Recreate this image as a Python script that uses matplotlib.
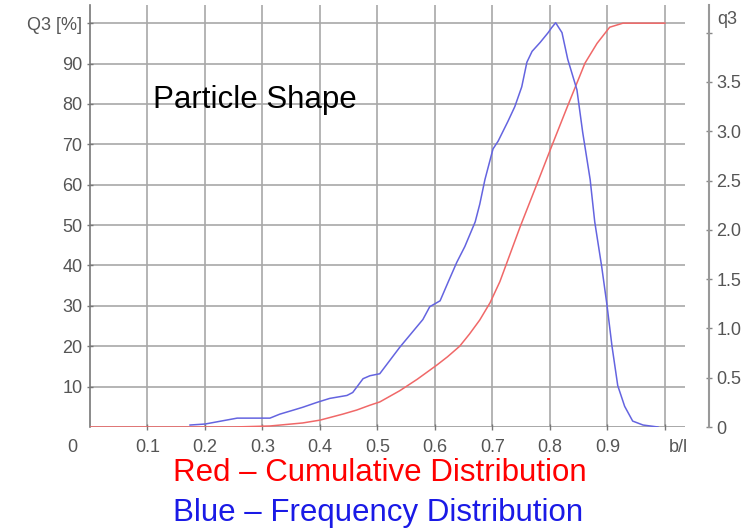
import matplotlib.pyplot as plt

plt.rcParams['font.family'] = ['Liberation Sans', 'DejaVu Sans']

# Blue - frequency distribution q3 (right axis)
blue_x = [0.174, 0.200, 0.256, 0.313, 0.330, 0.353, 0.370, 0.395, 0.417, 0.447,
          0.457, 0.475, 0.487, 0.504, 0.539, 0.579, 0.591, 0.609, 0.623, 0.638,
          0.652, 0.670, 0.678, 0.687, 0.701, 0.710, 0.727, 0.739, 0.751, 0.760,
          0.769, 0.783, 0.797, 0.803, 0.810, 0.821, 0.831, 0.847, 0.857, 0.870,
          0.878, 0.890, 0.899, 0.908, 0.918, 0.930, 0.944, 0.962, 0.988]
blue_q3 = [0.02, 0.03, 0.09, 0.09, 0.13, 0.17, 0.20, 0.25, 0.29, 0.32,
           0.35, 0.49, 0.52, 0.54, 0.81, 1.09, 1.22, 1.28, 1.47, 1.67,
           1.83, 2.08, 2.26, 2.51, 2.82, 2.90, 3.10, 3.25, 3.45, 3.70,
           3.81, 3.90, 4.00, 4.05, 4.10, 4.00, 3.73, 3.42, 2.99, 2.51,
           2.08, 1.63, 1.25, 0.82, 0.42, 0.21, 0.06, 0.02, 0.00]

# Red - cumulative distribution Q3 [%] (left axis)
red_x = [0.0, 0.25, 0.313, 0.370, 0.400, 0.440, 0.464, 0.487, 0.504, 0.539,
         0.569, 0.603, 0.622, 0.643, 0.660, 0.678, 0.696, 0.713, 0.748, 0.777,
         0.803, 0.830, 0.861, 0.882, 0.904, 0.927, 1.0]
red_Q3 = [0.0, 0.0, 0.25, 1.0, 1.7, 3.2, 4.2, 5.4, 6.2, 9.0,
          11.8, 15.3, 17.4, 20.0, 23.0, 26.5, 30.8, 36.0, 49.5, 60.0,
          69.5, 79.2, 90.1, 95.0, 99.0, 100.0, 100.0]

x_ticks = [0.1, 0.2, 0.3, 0.4, 0.5, 0.6, 0.7, 0.8, 0.9, 1.0]
x_labels = ['0.1', '0.2', '0.3', '0.4', '0.5', '0.6', '0.7', '0.8', '0.9', '']
y_ticks = [10, 20, 30, 40, 50, 60, 70, 80, 90, 100]
y_labels = ['10', '20', '30', '40', '50', '60', '70', '80', '90', 'Q3 [%]']
q3_ticks = [0, 0.5, 1.0, 1.5, 2.0, 2.5, 3.0, 3.5, 4.0]
q3_labels = ['0', '0.5', '1.0', '1.5', '2.0', '2.5', '3.0', '3.5', '']

label_gray = '#555555'
grid_gray = '#a8a8a8'

fig = plt.figure(figsize=(7.53, 5.30), dpi=100)
ax = fig.add_axes([90/753, 103/530, 595/753, 422/530])

ax.set_xlim(0, 1.035)
ax.set_ylim(0, 104.5)
ax.set_xticks(x_ticks)
ax.set_xticklabels(x_labels)
ax.set_yticks(y_ticks)
ax.set_yticklabels(y_labels)
ax.grid(True, color=grid_gray, linewidth=1.2)
ax.axhline(0, color=grid_gray, linewidth=1.4, zorder=1)

for side in ['top', 'right', 'bottom']:
    ax.spines[side].set_visible(False)
ax.spines['left'].set_color('#777777')
ax.spines['left'].set_linewidth(1.2)
ax.tick_params(axis='both', direction='inout', length=5, width=1, color='#777777',
               labelsize=13, labelcolor=label_gray)
ax.tick_params(axis='x', pad=6)
ax.tick_params(axis='y', pad=3)

ax.plot(red_x, red_Q3, color='#f06868', linewidth=1.1, zorder=3)

# right axis for frequency
ax2 = ax.twinx()
ax2.set_ylim(0, 4.28)
ax2.set_yticks(q3_ticks)
ax2.set_yticklabels(q3_labels)
for side in ['top', 'left', 'bottom']:
    ax2.spines[side].set_visible(False)
ax2.spines['right'].set_position(('outward', 17))
ax2.spines['right'].set_color('#999999')
ax2.spines['right'].set_linewidth(1.5)
ax2.tick_params(axis='y', direction='inout', length=5, width=1, color='#888888',
                labelsize=13, labelcolor=label_gray, pad=3)
ax2.plot(blue_x, blue_q3, color='#6464e0', linewidth=1.1, zorder=3)

# extra axis texts
ax.annotate('0', xy=(-0.03, 0), xycoords='data', xytext=(0, -8.5),
            textcoords='offset points', ha='center', va='top',
            fontsize=13, color=label_gray, annotation_clip=False)
ax.annotate('b/l', xy=(1.023, 0), xycoords='data', xytext=(0, -8.5),
            textcoords='offset points', ha='center', va='top',
            fontsize=13, color=label_gray, annotation_clip=False)
fig.text(727/753, 1 - 20/530, 'q3', ha='center', va='center',
         fontsize=13, color=label_gray)

ax.text(0.11, 81, 'Particle Shape', fontsize=22.5, color='black',
        ha='left', va='center')

fig.text(380/753, 1 - 473/530, 'Red \u2013 Cumulative Distribution',
         fontsize=22.5, color='#ff0000', ha='center', va='center')
fig.text(378/753, 1 - 513/530, 'Blue \u2013 Frequency Distribution',
         fontsize=22.5, color='#1a1ae6', ha='center', va='center')

fig.savefig('out.png', dpi=100)
